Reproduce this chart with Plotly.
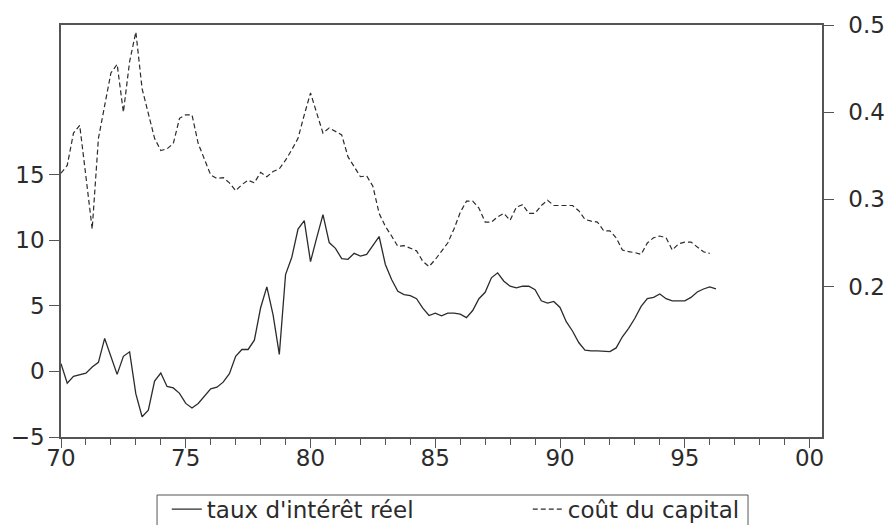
import plotly.graph_objects as go

# Quarterly observations, 1970Q1 onward (x in two-digit years, Q1 = .00)
start_year = 70
quarters_per_year = 4

# Real interest rate (left axis, %), 1970Q1 - 1996Q2
taux_interet_reel = [
    0.59, -0.90, -0.38, -0.23, -0.13, 0.33, 0.69, 2.51, 1.15, -0.23,
    1.15, 1.49, -1.72, -3.46, -2.95, -0.74, -0.13, -1.15, -1.26, -1.67,
    -2.44, -2.79, -2.44, -1.92, -1.33, -1.20, -0.82, -0.18, 1.15, 1.67,
    1.67, 2.38, 4.85, 6.44, 4.31, 1.30, 7.38, 8.70, 10.85, 11.49,
    8.36, 10.20, 11.95, 9.82, 9.38, 8.59, 8.54, 9.00, 8.79, 8.92,
    9.62, 10.28, 8.15, 7.00, 6.10, 5.85, 5.77, 5.54, 4.82, 4.26,
    4.44, 4.23, 4.44, 4.44, 4.36, 4.10, 4.64, 5.54, 6.03, 7.13,
    7.51, 6.87, 6.49, 6.36, 6.49, 6.49, 6.23, 5.38, 5.21, 5.33,
    4.87, 3.79, 3.08, 2.20, 1.62, 1.56, 1.56, 1.56, 1.51, 1.79,
    2.64, 3.28, 4.05, 4.95, 5.54, 5.64, 5.90, 5.54, 5.38, 5.38,
    5.38, 5.64, 6.05, 6.28, 6.44, 6.28,
]

# Cost of capital (right axis), 1970Q1 - 1996Q1
cout_du_capital = [
    0.330, 0.339, 0.376, 0.385, 0.326, 0.266, 0.370, 0.408, 0.445, 0.455,
    0.400, 0.458, 0.492, 0.427, 0.397, 0.370, 0.356, 0.358, 0.364, 0.393,
    0.397, 0.397, 0.364, 0.345, 0.328, 0.324, 0.325, 0.319, 0.310, 0.317,
    0.322, 0.319, 0.331, 0.326, 0.332, 0.335, 0.345, 0.357, 0.370, 0.397,
    0.422, 0.399, 0.376, 0.382, 0.378, 0.374, 0.349, 0.338, 0.326, 0.327,
    0.315, 0.284, 0.269, 0.258, 0.246, 0.247, 0.244, 0.241, 0.229, 0.223,
    0.231, 0.240, 0.250, 0.266, 0.285, 0.298, 0.298, 0.290, 0.274, 0.274,
    0.280, 0.284, 0.276, 0.291, 0.294, 0.284, 0.284, 0.293, 0.299, 0.293,
    0.293, 0.293, 0.293, 0.287, 0.277, 0.275, 0.274, 0.264, 0.264, 0.256,
    0.242, 0.240, 0.239, 0.237, 0.250, 0.256, 0.258, 0.256, 0.242, 0.249,
    0.251, 0.251, 0.245, 0.240, 0.238,
]

x_tick_vals = [70, 75, 80, 85, 90, 95, 100]
x_tick_text = ["70", "75", "80", "85", "90", "95", "00"]
left_tick_vals = [-5, 0, 5, 10, 15]
right_tick_vals = [0.2, 0.3, 0.4, 0.5]
right_tick_text = ["0.2", "0.3", "0.4", "0.5"]

x_taux = [start_year + i / quarters_per_year for i in range(len(taux_interet_reel))]
x_cout = [start_year + i / quarters_per_year for i in range(len(cout_du_capital))]

ink = "#2b2b2b"
axis_col = "#555555"
font_family = "DejaVu Sans, Arial, sans-serif"
tick_font = dict(family=font_family, size=23, color=ink)

fig = go.Figure()
fig.add_trace(go.Scatter(
    x=x_taux, y=taux_interet_reel, mode="lines",
    name="taux d'intérêt réel",
    line=dict(color=ink, width=1.3),
    yaxis="y",
))
fig.add_trace(go.Scatter(
    x=x_cout, y=cout_du_capital, mode="lines",
    name="coût du capital",
    line=dict(color=ink, width=1.2, dash="5px,3px"),
    yaxis="y2",
))

# Frame around the legend entries (runs off the bottom edge of the page)
fig.add_shape(
    type="rect", xref="paper", yref="paper",
    x0=0.1262, x1=0.9028, y0=-0.23, y1=-0.1408,
    line=dict(color=axis_col, width=1), fillcolor="rgba(0,0,0,0)",
    layer="above",
)

fig.update_layout(
    width=887, height=525,
    margin=dict(l=61, r=65, t=25, b=88, autoexpand=False),
    paper_bgcolor="white", plot_bgcolor="white",
    font=dict(family=font_family, size=23, color=ink),
    showlegend=True,
    legend=dict(
        orientation="h",
        x=0.139, xanchor="left",
        y=-0.123, yanchor="top",
        borderwidth=0,
        bgcolor="rgba(0,0,0,0)",
        font=dict(family=font_family, size=23, color=ink),
        itemwidth=30,
        entrywidth=316,
        entrywidthmode="pixels",
        tracegroupgap=0,
    ),
    xaxis=dict(
        range=[70, 100.5],
        tickmode="array", tickvals=x_tick_vals, ticktext=x_tick_text,
        ticks="outside", ticklen=9, tickcolor=axis_col, tickwidth=1,
        ticklabelstandoff=-9,
        minor=dict(dtick=1, ticks="outside", ticklen=6, tickcolor=axis_col, tickwidth=1, showgrid=False),
        showline=True, linecolor=axis_col, linewidth=1.5, mirror=True,
        showgrid=False, zeroline=False,
        tickfont=tick_font,
    ),
    yaxis=dict(
        range=[-5, 26.4],
        tickmode="array", tickvals=left_tick_vals,
        ticks="outside", ticklen=10, tickcolor=axis_col, tickwidth=1,
        showline=True, linecolor=axis_col, linewidth=1.5,
        showgrid=False, zeroline=False,
        tickfont=tick_font,
    ),
    yaxis2=dict(
        range=[0.0275, 0.5],
        overlaying="y", side="right",
        tickmode="array", tickvals=right_tick_vals, ticktext=right_tick_text,
        ticks="outside", ticklen=10, tickcolor=axis_col, tickwidth=1,
        ticklabelstandoff=10,
        showline=True, linecolor=axis_col, linewidth=1.5,
        showgrid=False, zeroline=False,
        tickfont=tick_font,
    ),
)

fig.write_html("out.html")
